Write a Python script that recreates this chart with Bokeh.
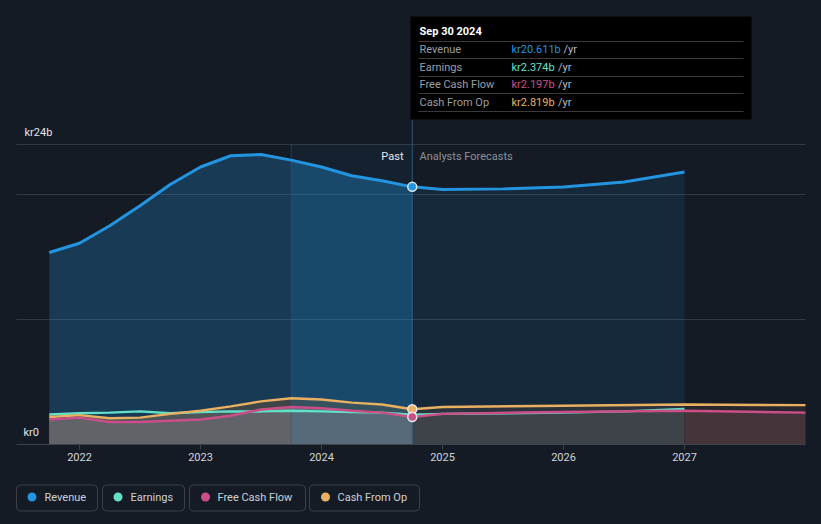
import numpy as np
from bokeh.plotting import figure
from bokeh.models import Range1d, FixedTicker, Label, BoxAnnotation
from bokeh.layouts import column
from bokeh.embed import file_html
from bokeh.resources import INLINE
from bokeh.core.properties import value

# ---------------- data (billions kr) ----------------
past_x = [2021.75, 2022.0, 2022.25, 2022.5, 2022.75, 2023.0, 2023.25,
          2023.5, 2023.75, 2024.0, 2024.25, 2024.5, 2024.75]
revenue_past = [15.36, 16.1, 17.5, 19.1, 20.8, 22.2, 23.1,
                23.2, 22.75, 22.2, 21.5, 21.1, 20.611]
earnings_past = [2.4, 2.5, 2.55, 2.65, 2.5, 2.6, 2.65,
                 2.65, 2.7, 2.65, 2.6, 2.55, 2.374]
fcf_past = [2.0, 2.15, 1.8, 1.8, 1.9, 2.0, 2.3,
            2.8, 3.0, 2.9, 2.7, 2.55, 2.197]
cfo_past = [2.2, 2.35, 2.1, 2.15, 2.45, 2.7, 3.05,
            3.45, 3.7, 3.6, 3.35, 3.2, 2.819]

rev_fc_x = [2024.75, 2025.0, 2025.5, 2026.0, 2026.5, 2027.0]
revenue_fc = [20.611, 20.4, 20.45, 20.6, 21.0, 21.8]
earn_fc_x = [2024.75, 2025.0, 2026.0, 2026.5, 2027.0]
earnings_fc = [2.374, 2.45, 2.55, 2.65, 2.85]
cash_fc_x = [2024.75, 2025.0, 2026.0, 2027.0, 2028.0]
fcf_fc = [2.197, 2.45, 2.6, 2.7, 2.55]
cfo_fc = [2.819, 3.0, 3.1, 3.2, 3.15]

year_ticks = [2022, 2023, 2024, 2025, 2026, 2027]
grid_values = [10, 20, 24]
series_names = ["Revenue", "Earnings", "Free Cash Flow", "Cash From Op"]
tooltip_values = ["kr20.611b", "kr2.374b", "kr2.197b", "kr2.819b"]
tooltip_date = "Sep 30 2024"
past_end = 2024.75
band_start = 2023.75
fc_split = 2027.0

# ---------------- style ----------------
BG = "#151b25"
C_REV = "#2394df"
C_EARN = "#62e0c8"
C_FCF = "#cc4e88"
C_CFO = "#e8b060"
COLORS = [C_REV, C_EARN, C_FCF, C_CFO]
FONT = "Roboto"


def X(px):
    return 2022 + (px - 79) / 121.0


def Y(py):
    return (444 - py) / 12.5


p = figure(width=821, height=474, x_range=Range1d(X(0), X(821)),
           y_range=Range1d(0, Y(0)), output_backend="svg",
           toolbar_location=None, y_axis_location=None,
           min_border_left=0, min_border_right=0, min_border_top=0,
           min_border_bottom=30, background_fill_color=BG,
           border_fill_color=BG, outline_line_color=None)
p.grid.visible = False

ax = p.xaxis[0]
ax.ticker = FixedTicker(ticks=year_ticks)
ax.bounds = (X(16), X(805))
ax.axis_line_color = "#3d434c"
ax.major_tick_line_color = "#3d434c"
ax.major_tick_out = 5
ax.major_tick_in = 0
ax.minor_tick_line_color = None
ax.major_label_standoff = 3
ax.major_label_text_color = "#d2d5da"
ax.major_label_text_font = FONT
ax.major_label_text_font_size = "11px"

# grid lines
p.segment(x0=[X(16)] * len(grid_values), x1=[X(805)] * len(grid_values),
          y0=grid_values, y1=grid_values, line_color="#343941", line_width=1)

px_ = np.array(past_x)
# revenue fills
p.varea(x=past_x, y1=0, y2=revenue_past, fill_color=C_REV, fill_alpha=0.26)
p.varea(x=rev_fc_x, y1=0, y2=revenue_fc, fill_color=C_REV, fill_alpha=0.12)

# lower fills, past
p.varea(x=past_x, y1=0, y2=cfo_past, fill_color="#3d4547", fill_alpha=1)
p.varea(x=past_x, y1=0, y2=np.minimum(earnings_past, cfo_past),
        fill_color="#4e5657", fill_alpha=1)
p.varea(x=past_x, y1=0, y2=fcf_past, fill_color="#616368", fill_alpha=1)

# lower fills, forecast
cx = np.array(cash_fc_x)
m1 = cx <= fc_split
m2 = cx >= fc_split
p.varea(x=cx[m1], y1=0, y2=np.array(cfo_fc)[m1], fill_color="#2d333d")
p.varea(x=cx[m1], y1=0, y2=np.array(fcf_fc)[m1], fill_color="#3e4249")
p.varea(x=cx[m2], y1=0, y2=np.array(cfo_fc)[m2], fill_color="#29272e")
p.varea(x=cx[m2], y1=0, y2=np.array(fcf_fc)[m2], fill_color="#45353b")

# highlight band (last year of past)
band = px_ >= band_start
p.quad(left=band_start, right=past_end, bottom=0, top=Y(144),
       fill_color=C_REV, fill_alpha=0.05, line_color=None)
p.varea(x=px_[band], y1=0, y2=np.array(revenue_past)[band],
        fill_color=C_REV, fill_alpha=0.12)
p.segment(x0=[band_start], x1=[band_start], y0=[0], y1=[Y(144)],
          line_color="#2a5a80", line_alpha=0.5, line_width=1)

# lines
p.line(x=past_x, y=earnings_past, line_color=C_EARN, line_width=2.5)
p.line(x=earn_fc_x, y=earnings_fc, line_color=C_EARN, line_width=2.5)
p.line(x=past_x, y=cfo_past, line_color=C_CFO, line_width=2.5)
p.line(x=cash_fc_x, y=cfo_fc, line_color=C_CFO, line_width=2.5)
p.line(x=past_x, y=fcf_past, line_color=C_FCF, line_width=2.5)
p.line(x=cash_fc_x, y=fcf_fc, line_color=C_FCF, line_width=2.5)
p.line(x=past_x, y=revenue_past, line_color=C_REV, line_width=3)
p.line(x=rev_fc_x, y=revenue_fc, line_color=C_REV, line_width=3)

# vertical cursor line
p.segment(x0=[past_end], x1=[past_end], y0=[0], y1=[Y(119)],
          line_color="#3a6f98", line_alpha=0.7, line_width=1)

# markers
p.scatter(x=[past_end], y=[revenue_past[-1]], size=9, fill_color=C_REV,
          line_color="#d8e6f2", line_width=1.5)
p.scatter(x=[past_end], y=[cfo_past[-1]], size=9, fill_color=C_CFO,
          line_color="#e8e8e8", line_width=1.5)
p.scatter(x=[past_end], y=[fcf_past[-1]], size=9, fill_color=C_FCF,
          line_color="#e8e8e8", line_width=1.5)


def lab(x, y, text, color, size="11px", align="left", style="normal"):
    p.add_layout(Label(x=X(x), y=Y(y), text=text, text_color=color,
                       text_font=FONT, text_font_size=size,
                       text_align=align, text_baseline="middle",
                       text_font_style=style))


lab(24, 132, "kr24b", "#e2e4e8")
lab(23, 432, "kr0", "#e2e4e8")
lab(403, 156, "Past", "#e6e8ec", align="right")
lab(419, 156, "Analysts Forecasts", "#8b9099")

# tooltip
p.add_layout(BoxAnnotation(left=X(410), right=X(751), top=Y(16), bottom=Y(119),
                           fill_color="#000000", fill_alpha=1, line_color=None))
for sy in [41, 58, 76, 93, 111]:
    p.add_layout(BoxAnnotation(left=X(418), right=X(743), top=Y(sy - 0.5),
                               bottom=Y(sy + 0.5), fill_color="#3a3a3a",
                               fill_alpha=1, line_color=None))
lab(419, 31, tooltip_date, "#ffffff", style="bold")
row_y = [49, 66.5, 84, 101.5]
yr_x = [563, 557.5, 557.5, 557.5]
for i in range(4):
    lab(419, row_y[i], series_names[i], "#9a9ea6")
    lab(511, row_y[i], tooltip_values[i], COLORS[i])
    lab(yr_x[i], row_y[i], "/yr", "#b8bcc2")

# ---------------- legend ----------------
lg = figure(width=821, height=50, x_range=Range1d(0, 821),
            y_range=Range1d(524, 474), output_backend="svg",
            toolbar_location=None, x_axis_location=None, y_axis_location=None,
            min_border_left=0, min_border_right=0, min_border_top=0,
            min_border_bottom=0, background_fill_color=BG,
            border_fill_color=BG, outline_line_color=None)
lg.grid.visible = False
box_l = [16, 102, 189, 309]
box_r = [97, 184, 305, 419]
dot_x = [31.5, 117.5, 205, 325]
txt_x = [44, 130, 217, 337]
lg.quad(left=box_l, right=box_r, top=[484.5] * 4, bottom=[510.5] * 4,
        fill_color=BG, line_color="#3b4049", line_width=1, border_radius=4)
lg.scatter(x=dot_x, y=[496.5] * 4, size=9, fill_color=COLORS, line_color=None)
lg.text(x=txt_x, y=[496.5] * 4, text=series_names, text_color="#cdd1d7",
        text_font=value(FONT), text_font_size="11px", text_baseline="middle")

layout = column(p, lg, spacing=0)
html = file_html(layout, INLINE)
css = ("<style>html, body {margin:0 !important; padding:0 !important; "
       "background-color:#151b25 !important; overflow:hidden;}</style>")
html = html.replace("</head>", css + "</head>", 1)
open("out.html", "w").write(html)
